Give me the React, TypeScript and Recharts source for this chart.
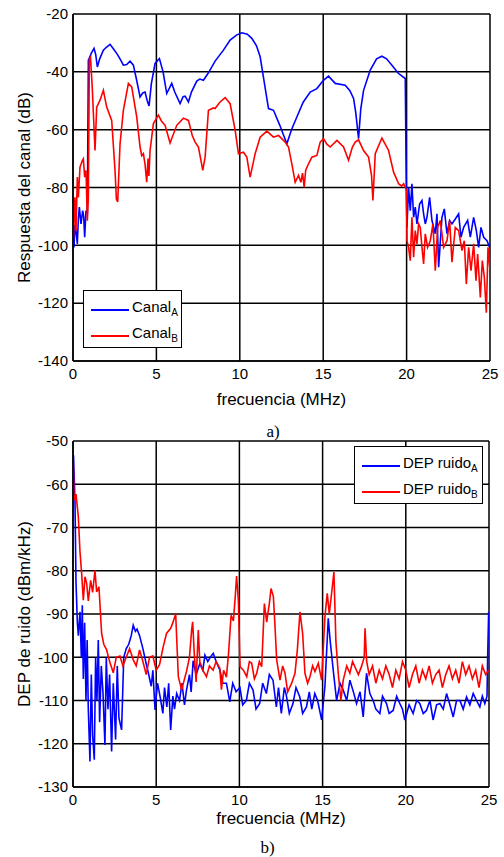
import React from "react";
import {
  LineChart,
  Line,
  XAxis,
  YAxis,
  CartesianGrid,
  Label,
} from "recharts";

// ---- a) respuesta del canal ----
const freqCanalA = [
  0, 0.06, 0.12, 0.18, 0.26, 0.32, 0.38, 0.48, 0.58, 0.64, 0.7, 0.78, 0.86, 0.92, 1.0, 1.1, 1.26, 1.36, 1.46, 1.6,
  1.82, 2.0, 2.22, 2.42, 2.62, 2.82, 3.02, 3.22, 3.42, 3.62, 3.82, 4.02, 4.18, 4.32, 4.45, 4.56, 4.7, 4.92, 5.18, 5.4,
  5.62, 5.92, 6.1, 6.42, 6.6, 6.72, 6.92, 7.1, 7.42, 7.6, 7.82, 8.1, 8.52, 9.02, 9.42, 9.8, 10.12, 10.45, 10.72, 11.0,
  11.22, 11.45, 11.72, 12.02, 12.4, 12.82, 13.1, 13.42, 13.8, 14.22, 14.62, 15.0, 15.32, 15.72, 16.32, 16.6, 16.82, 16.95, 17.12, 17.25,
  17.42, 17.82, 18.2, 18.52, 18.8, 19.12, 19.5, 19.92, 19.98,
  20.02, 20.12, 20.22, 20.32, 20.42, 20.52, 20.62, 20.78, 20.92, 21.02, 21.12, 21.22, 21.38, 21.52, 21.72, 21.82, 21.92, 22.12, 22.26, 22.42,
  22.58, 22.72, 22.92, 23.12, 23.26, 23.42, 23.66, 23.82, 24.02, 24.18, 24.32, 24.46, 24.62, 24.82, 24.98,
];
const canalA = [
  -88, -100.7, -93, -95, -99.5, -91, -86.8, -92.6, -88, -90, -97.2, -88, -89.1, -36, -35, -33.5, -31.9, -34, -38.3, -35.5,
  -32.5, -31.5, -30.5, -32, -33.6, -35.5, -37.7, -37.5, -36.3, -37.7, -43, -48.7, -47.3, -47, -50, -51.8, -44, -37.1, -35.4, -40,
  -47.5, -44, -47, -51, -48.6, -48.4, -50.4, -47, -43.2, -42.5, -42.9, -40.5, -36.3, -32.5, -29, -27.3, -26.5, -27, -28.4, -31,
  -34.8, -43, -52.7, -53.3, -58.5, -64.9, -60, -55.6, -50.5, -47, -45.8, -43, -41.5, -44, -44.6, -46.5, -49.2, -54, -63.1, -53,
  -46.4, -39.4, -35.5, -34.6, -35.5, -37.7, -40.5, -42.3, -78.7,
  -93.8, -79.9, -88, -78.7, -90.3, -86.8, -92.6, -85.7, -84.5, -89.1, -92.6, -90.3, -83.4, -91.4, -96, -89.1, -107.6, -90.3, -87.4, -96,
  -91.4, -92.6, -90.9, -89.1, -97.2, -93.8, -91.4, -97.2, -90.3, -94.9, -100.7, -93.8, -97.2, -98.4, -100.7,
];

const freqCanalB = [
  0, 0.02, 0.06, 0.12, 0.18, 0.26, 0.32, 0.42, 0.56, 0.62, 0.7, 0.78, 0.86, 0.92, 0.98, 1.05, 1.15, 1.32, 1.42, 1.62,
  1.82, 2.02, 2.32, 2.52, 2.6, 2.68, 2.75, 2.82, 3.02, 3.32, 3.52, 3.82, 4.02, 4.12, 4.22, 4.32, 4.42, 4.5, 4.55, 4.62,
  4.82, 5.12, 5.3, 5.52, 5.82, 6.22, 6.62, 6.92, 7.15, 7.32, 7.52, 7.65, 7.78, 7.92, 8.12, 8.42, 8.52, 8.8, 9.12, 9.42,
  9.72, 9.92, 10.22, 10.42, 10.62, 10.92, 11.22, 11.62, 12.02, 12.32, 12.72, 12.92, 13.12, 13.32, 13.52, 13.66, 13.76, 13.86, 13.95, 14.12,
  14.32, 14.62, 14.82, 15.02, 15.22, 15.42, 15.82, 16.22, 16.52, 16.75, 16.92, 17.12, 17.42, 17.72, 17.9, 17.98, 18.12, 18.52, 18.92, 19.22,
  19.52, 19.7, 19.82, 20.0,
  20.02, 20.12, 20.22, 20.32, 20.42, 20.52, 20.62, 20.72, 20.82, 20.92, 21.02, 21.12, 21.26, 21.42, 21.58, 21.72, 21.86, 22.02, 22.22, 22.42,
  22.58, 22.72, 22.92, 23.12, 23.32, 23.46, 23.58, 23.72, 23.86, 24.02, 24.16, 24.26, 24.42, 24.54, 24.66, 24.78, 24.88, 25.0,
];
const canalB = [
  -27, -98, -92.6, -83.4, -95, -76.4, -83.4, -73, -70.7, -70.1, -76.4, -74.1, -91.5, -83.4, -35.7, -35, -45, -67.2, -52.2, -49.8,
  -46.4, -52.2, -56.8, -74.1, -84, -85, -75, -64.9, -53.3, -44, -45.2, -55.6, -66, -69, -68.3, -72, -78.2, -70, -76, -67.2,
  -57.9, -55, -57, -58.5, -64.6, -58.5, -56, -56.8, -62, -64.3, -66, -70, -74.1, -69.5, -53.3, -52.5, -52.7, -50.5, -48.9, -51,
  -60.2, -68.3, -67.8, -69.5, -76.4, -68.3, -62.6, -60.5, -62.6, -62, -64.3, -66, -71.8, -78.2, -75.8, -78.2, -75, -79.9, -74, -71.8,
  -69.5, -68.9, -64.3, -63.1, -65, -66, -63.7, -66, -70.6, -66, -64.3, -63.5, -67.2, -69.5, -76, -84.5, -68.3, -62.9, -67.2, -74.7,
  -78.7, -79.5, -78.7, -81,
  -98.4, -100.7, -105.3, -90.3, -104.1, -94.9, -99.5, -92.6, -93.8, -100.7, -106.4, -96, -100.7, -98.4, -92.6, -108.8, -93.8, -91.4, -100.7, -98.4,
  -91.4, -105.8, -93.8, -94.9, -101.8, -98.4, -113.4, -100.7, -108.8, -99.5, -112.2, -103, -118, -105.3, -111.1, -123.3, -100.7, -108.8,
];

// ---- b) DEP de ruido ----
const freqRuidoA = [
  0.03, 0.12, 0.18, 0.26, 0.32, 0.42, 0.5, 0.56, 0.62, 0.7, 0.78, 0.85, 0.92, 1.02, 1.1, 1.18, 1.28, 1.36, 1.44, 1.52,
  1.6, 1.7, 1.8, 1.92, 2.0, 2.1, 2.2, 2.32, 2.42, 2.56, 2.66, 2.76, 2.92, 3.05, 3.2, 3.35, 3.5, 3.62, 3.75, 3.85,
  4.0, 4.2, 4.4, 4.55, 4.7, 4.8, 4.93, 5.08, 5.24, 5.4, 5.5, 5.64, 5.75, 5.87, 6.0, 6.1, 6.23, 6.4, 6.55, 6.7,
  6.82, 7.0, 7.1, 7.22, 7.4, 7.62, 7.8, 7.93, 8.1, 8.25, 8.43, 8.6, 8.83, 9.0, 9.22, 9.42, 9.6, 9.8, 10.03, 10.2,
  10.42, 10.6, 10.82, 11.0, 11.22, 11.4, 11.62, 11.8, 12.02, 12.22, 12.35, 12.52, 12.7, 12.82, 13.0, 13.22, 13.4, 13.63, 13.8, 14.03,
  14.2, 14.35, 14.53, 14.7, 14.94, 15.14, 15.34, 15.45, 15.64, 15.84, 16.05, 16.24, 16.45, 16.64, 16.85, 17.04, 17.25, 17.44, 17.64, 17.84,
  18.04, 18.2, 18.44, 18.6, 18.84, 19.0, 19.24, 19.45, 19.64, 19.8, 19.94, 20.2, 20.44, 20.65, 20.84, 21.05, 21.24, 21.45, 21.64, 21.85,
  22.05, 22.25, 22.45, 22.65, 22.85, 23.05, 23.25, 23.45, 23.65, 23.85, 24.05, 24.25, 24.45, 24.6, 24.75, 24.88, 24.92, 24.98,
];
const ruidoA = [
  -53.3, -64, -82.6, -91.8, -95, -89.5, -100, -88, -105, -92, -110, -96, -112, -124.1, -104, -118, -123.7, -100, -110, -96,
  -115, -102, -108, -120.3, -100, -112, -104, -121.8, -106, -119, -102, -114, -116.8, -100, -98, -97, -95, -92.6, -94, -93.5,
  -95, -98, -101.5, -104, -106.7, -103, -112.2, -106, -109.2, -113, -107, -111.5, -106, -116.8, -109, -112, -108.4, -110, -106, -111,
  -107.6, -104, -108, -100.8, -104, -101.5, -103, -99.5, -101, -100, -99.1, -101, -103, -106, -106, -110.3, -106, -108, -107, -111,
  -110, -106, -107.6, -112, -110.7, -106, -108.4, -104, -105.3, -111.5, -107, -113, -107, -108.8, -113, -110.7, -107, -109.2, -113, -111.5,
  -108, -112, -108.4, -110, -114.5, -106.7, -91, -96, -103, -110, -106, -107.6, -110, -105.3, -108, -110.7, -108, -113.8, -103.7, -108.4,
  -110, -112, -113, -109, -110.7, -113, -112.3, -109, -110.7, -112, -114.5, -111, -113, -110, -110.7, -113, -112.3, -110, -114.5, -111,
  -110.7, -112, -108.4, -111, -113.8, -110, -110, -112, -109.2, -111, -108.4, -110, -111.5, -109, -110.7, -109, -99.7, -89.5,
];

const freqRuidoB = [
  0.02, 0.06, 0.18, 0.32, 0.42, 0.52, 0.62, 0.72, 0.82, 0.92, 1.06, 1.18, 1.32, 1.42, 1.56, 1.72, 1.85, 2.02, 2.2, 2.42,
  2.6, 2.82, 3.0, 3.2, 3.4, 3.62, 3.8, 4.0, 4.2, 4.4, 4.6, 4.8, 5.0, 5.2, 5.42, 5.62, 5.87, 6.0, 6.17, 6.33,
  6.53, 6.7, 6.82, 7.0, 7.13, 7.19, 7.3, 7.4, 7.53, 7.62, 7.8, 8.02, 8.2, 8.42, 8.6, 8.82, 8.92, 9.05, 9.22, 9.35,
  9.5, 9.64, 9.75, 9.83, 9.94, 10.04, 10.24, 10.44, 10.6, 10.74, 10.9, 11.04, 11.2, 11.34, 11.5, 11.64, 11.8, 11.9, 12.04, 12.14,
  12.24, 12.44, 12.6, 12.74, 12.9, 13.14, 13.34, 13.48, 13.64, 13.8, 13.94, 14.1, 14.24, 14.4, 14.54, 14.74, 14.94, 15.14, 15.28, 15.4,
  15.54, 15.68, 15.8, 15.94, 16.1, 16.24, 16.45, 16.64, 16.8, 16.94, 17.15, 17.35, 17.5, 17.55, 17.65, 17.8, 18.0, 18.2, 18.4, 18.6,
  18.8, 19.0, 19.2, 19.4, 19.6, 19.8, 20.0, 20.2, 20.4, 20.6, 20.8, 21.0, 21.2, 21.4, 21.6, 21.8, 22.0, 22.2, 22.4, 22.6,
  22.8, 23.0, 23.2, 23.4, 23.6, 23.8, 24.0, 24.2, 24.4, 24.6, 24.8, 24.98,
];
const ruidoB = [
  -55.2, -63.7, -62.3, -67.5, -75.6, -80.6, -86.8, -81.4, -82.9, -87, -82.2, -85, -79.9, -84.9, -83.7, -94.5, -97, -98.3, -101, -103.6,
  -100, -99.7, -102, -100, -98, -100.6, -102, -98.3, -101, -104, -100, -99.7, -103, -101.7, -97.6, -94.5, -93.3, -92, -90, -104.5,
  -107.6, -105, -103.3, -100, -93.7, -91.8, -100, -105.7, -93.7, -101, -103, -104.5, -102, -103, -101, -102.5, -107.5, -103, -104.6, -99,
  -90.3, -91.6, -86, -81.2, -87, -102.2, -103, -104.5, -101, -101.4, -105, -103.7, -101, -102.2, -87.6, -91.9, -87.6, -84.1, -85.9, -92.9,
  -100.6, -105.3, -102, -103.7, -108, -106, -103.7, -98.4, -89.5, -94.5, -103.7, -106, -104.5, -102, -103.3, -101.4, -105.3, -90.6, -85.2, -90,
  -85.2, -80.3, -96.4, -103.7, -110, -105.3, -102, -103.7, -101, -102.2, -104, -102, -100, -93.3, -101, -104, -102, -106, -103, -105,
  -102, -104, -107, -103, -105, -101, -103, -107, -104, -102, -106, -103, -105, -102, -106, -104, -103, -107, -104, -102,
  -105, -103, -106, -101, -104, -102, -105, -103, -107, -102, -104, -103,
];

const freqTicks = [0, 5, 10, 15, 20, 25];
const canalTicks = [-140, -120, -100, -80, -60, -40, -20];
const ruidoTicks = [-130, -120, -110, -100, -90, -80, -70, -60, -50];

const canalNames = ["Canal", "Canal"];
const ruidoNames = ["DEP ruido", "DEP ruido"];
const subs = ["A", "B"];

const toPoints = (xs: number[], ys: number[]) => xs.map((f, i) => ({ f, v: ys[i] }));

const BLUE = "#0000ff";
const RED = "#ff0000";
const COLORS = [BLUE, RED];
const SANS = "'Liberation Sans', Arial, sans-serif";

const tickStyle = { fill: "#000", fontSize: 15, fontFamily: SANS };

const yLabel = (text: string) => (props: any) => {
  const vb = props.viewBox || {};
  const cx = 24;
  const cy = vb.y + vb.height / 2;
  return (
    <text
      x={cx}
      y={cy}
      transform={`rotate(-90 ${cx} ${cy})`}
      textAnchor="middle"
      dominantBaseline="central"
      fontSize={17}
      fontFamily={SANS}
      fill="#000"
    >
      {text}
    </text>
  );
};

// matlab style legend box
const LegendBox = ({ names, left, top, width }: { names: string[]; left: number; top: number; width: number }) => (
  <div
    style={{
      position: "absolute",
      left,
      top,
      width,
      height: 58,
      border: "1px solid #000",
      background: "#fff",
      boxSizing: "border-box",
      fontFamily: SANS,
    }}
  >
    {names.map((n, i) => (
      <div
        key={i}
        style={{ position: "absolute", left: 7, top: 8 + i * 26, display: "flex", alignItems: "center", whiteSpace: "nowrap" }}
      >
        <span style={{ display: "inline-block", width: 38, height: 2, background: COLORS[i], marginRight: 3 }} />
        <span style={{ fontSize: 15, lineHeight: "16px", color: "#000" }}>
          {n}
          <sub style={{ fontSize: 10 }}>{subs[i]}</sub>
        </span>
      </div>
    ))}
  </div>
);

export default function App() {
  const dataCanalA = toPoints(freqCanalA, canalA);
  const dataCanalB = toPoints(freqCanalB, canalB);
  const dataRuidoA = toPoints(freqRuidoA, ruidoA);
  const dataRuidoB = toPoints(freqRuidoB, ruidoB);

  return (
    <div style={{ position: "absolute", left: 0, top: 0, width: 504, height: 857, background: "#fff", fontFamily: SANS }}>
      {/* a) */}
      <div style={{ position: "absolute", left: 0, top: 0 }}>
        <LineChart width={504} height={420} margin={{ top: 14, right: 14, bottom: 9, left: 0 }}>
          <CartesianGrid stroke="#000" strokeWidth={1.5} />
          <XAxis
            type="number"
            dataKey="f"
            domain={[0, 25]}
            ticks={freqTicks}
            allowDataOverflow
            height={50}
            tickSize={0}
            tickMargin={7}
            axisLine={{ stroke: "#000", strokeWidth: 1.5 }}
            tick={tickStyle}
          >
            <Label value="frecuencia (MHz)" position="insideBottom" offset={6} fontSize={17} fill="#000" fontFamily={SANS} />
          </XAxis>
          <YAxis
            type="number"
            domain={[-140, -20]}
            ticks={canalTicks}
            allowDataOverflow
            width={73}
            tickSize={0}
            tickMargin={5}
            axisLine={{ stroke: "#000", strokeWidth: 1.5 }}
            tick={tickStyle}
            label={{ position: "center", content: yLabel("Respuesta del canal (dB)") }}
          />
          <Line data={dataCanalA} dataKey="v" name="Canal A" stroke={BLUE} strokeWidth={1.6} dot={false} isAnimationActive={false} />
          <Line data={dataCanalB} dataKey="v" name="Canal B" stroke={RED} strokeWidth={1.6} dot={false} isAnimationActive={false} />
        </LineChart>
      </div>
      <LegendBox names={canalNames} left={83} top={290} width={99} />
      <div style={{ position: "absolute", left: 0, width: 546, top: 423, textAlign: "center", fontFamily: "'Liberation Serif', serif", fontSize: 17, lineHeight: "17px" }}>
        a)
      </div>

      {/* b) */}
      <div style={{ position: "absolute", left: 0, top: 425 }}>
        <LineChart width={504} height={420} margin={{ top: 16, right: 15, bottom: 8, left: 0 }}>
          <CartesianGrid stroke="#000" strokeWidth={1.5} />
          <XAxis
            type="number"
            dataKey="f"
            domain={[0, 25]}
            ticks={freqTicks}
            allowDataOverflow
            height={50}
            tickSize={0}
            tickMargin={7}
            axisLine={{ stroke: "#000", strokeWidth: 1.5 }}
            tick={tickStyle}
          >
            <Label value="frecuencia (MHz)" position="insideBottom" offset={13} fontSize={17} fill="#000" fontFamily={SANS} />
          </XAxis>
          <YAxis
            type="number"
            domain={[-130, -50]}
            ticks={ruidoTicks}
            allowDataOverflow
            width={73}
            tickSize={0}
            tickMargin={5}
            axisLine={{ stroke: "#000", strokeWidth: 1.5 }}
            tick={tickStyle}
            label={{ position: "center", content: yLabel("DEP de ruido (dBm/kHz)") }}
          />
          <Line data={dataRuidoA} dataKey="v" name="DEP ruido A" stroke={BLUE} strokeWidth={1.6} dot={false} isAnimationActive={false} />
          <Line data={dataRuidoB} dataKey="v" name="DEP ruido B" stroke={RED} strokeWidth={1.6} dot={false} isAnimationActive={false} />
        </LineChart>
      </div>
      <LegendBox names={ruidoNames} left={354} top={446} width={129} />
      <div style={{ position: "absolute", left: 0, width: 535, top: 839, textAlign: "center", fontFamily: "'Liberation Serif', serif", fontSize: 17, lineHeight: "17px" }}>
        b)
      </div>
    </div>
  );
}
